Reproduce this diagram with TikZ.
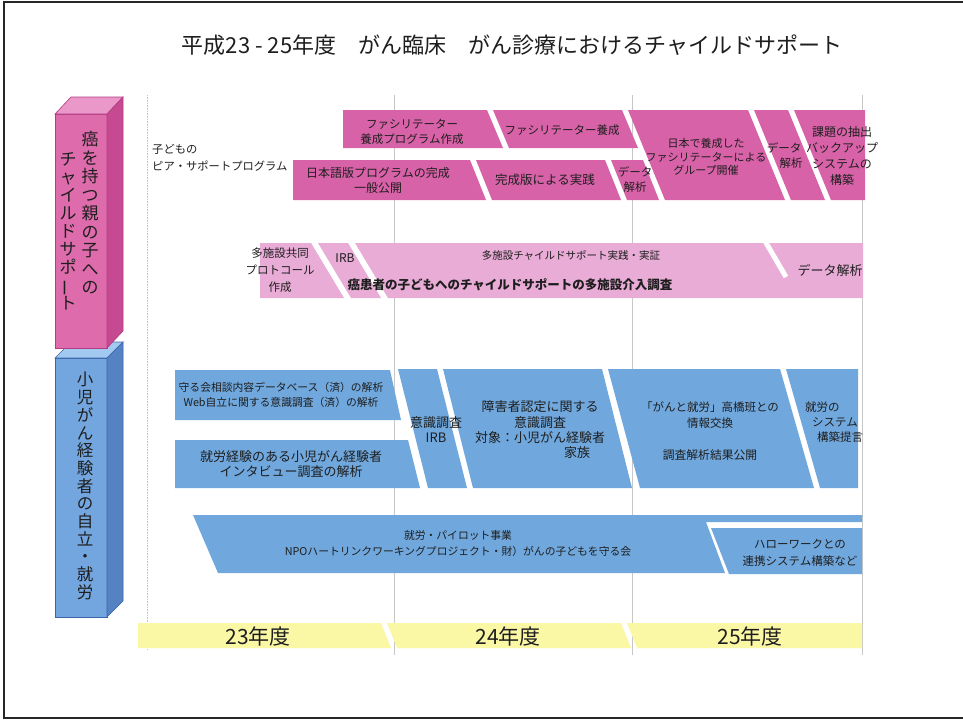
\documentclass[tikz,border=0pt]{standalone}
\usepackage{fontspec}
\usepackage{graphicx}
\setmainfont{Noto Sans CJK JP}
\definecolor{pinkbar}{RGB}{216,98,168}
\definecolor{pinklite}{RGB}{232,172,214}
\definecolor{bluebar}{RGB}{112,168,222}
\definecolor{yellowbar}{RGB}{250,247,165}
\definecolor{txtc}{RGB}{30,30,30}
\definecolor{pkfront}{RGB}{222,108,172}
\definecolor{pktop}{RGB}{234,152,202}
\definecolor{pkside}{RGB}{198,74,145}
\definecolor{pkedge}{RGB}{180,60,130}
\definecolor{blfront}{RGB}{115,165,222}
\definecolor{bltop}{RGB}{162,202,240}
\definecolor{blside}{RGB}{85,130,195}
\definecolor{bledge}{RGB}{60,100,170}
\newcommand{\vchoon}{\rotatebox[origin=c]{90}{ー}}
\newcommand{\fsz}[2]{\fontsize{#1}{#2}\selectfont}
\begin{document}
\begin{tikzpicture}[x=1pt,y=-1pt,
  txt/.style={text=txtc,align=center,inner sep=0pt},
  pinkseg/.style={fill=pinkbar,draw=none},
  liteseg/.style={fill=pinklite,draw=none},
  blueseg/.style={fill=bluebar,draw=none},
  yelseg/.style={fill=yellowbar,draw=none},
  gridline/.style={draw=black!22,line width=0.6pt},
  gapline/.style={draw=white,line width=5pt}]
\useasboundingbox (0,0) rectangle (963,721);
\fill[white] (0,0) rectangle (963,721);
% frame
\draw[line width=1.6pt,black!85] (965,2) -- (4,2) -- (4,718) -- (965,718);
% title
\node[txt,font=\fsz{22}{26}] (title) at (512,45) {平成23 - 25年度　がん臨床　がん診療におけるチャイルドサポート};
% grid lines
\draw[gridline,densely dotted] (147,95) -- (147,650);
\draw[gridline] (394,95) -- (394,655);
\draw[gridline] (632,95) -- (632,655);
\draw[gridline] (862,95) -- (862,655);
% blue pillar
\fill[blfront,draw=bledge,line width=0.6pt] (55,358) -- (107,358) -- (107,617) -- (55,617) -- cycle;
\fill[bltop,draw=bledge,line width=0.6pt] (55,358) -- (71,342) -- (123,342) -- (107,358) -- cycle;
\fill[blside,draw=bledge,line width=0.6pt] (107,358) -- (123,342) -- (123,601) -- (107,617) -- cycle;
\node[txt,font=\fsz{16.5}{17.7}] (bluecol) at (85,486) {小\\児\\が\\ん\\経\\験\\者\\の\\自\\立\\・\\就\\労};
% pink pillar
\fill[pkfront,draw=pkedge,line width=0.6pt] (55,114) -- (107,114) -- (107,348) -- (55,348) -- cycle;
\fill[pktop,draw=pkedge,line width=0.6pt] (55,114) -- (71,97) -- (123,97) -- (107,114) -- cycle;
\fill[pkside,draw=pkedge,line width=0.6pt] (107,114) -- (123,97) -- (123,331) -- (107,348) -- cycle;
\node[txt,font=\fsz{17}{18.5}] (pinkcolA) at (90,213) {癌\\を\\持\\つ\\親\\の\\子\\へ\\の};
\node[txt,font=\fsz{17}{18}] (pinkcolB) at (68,231) {チ\\ャ\\イ\\ル\\ド\\サ\\ポ\\\vchoon\\ト};
% peer support label
\node[txt,align=left,anchor=west,font=\fsz{11.3}{16.5}] (peer) at (152,158) {子どもの\\ピア・サポートプログラム};
% pink rows 1-2
\path[pinkseg] (343,110) -- (487,110) -- (503,148) -- (343,148) -- cycle;
\path[pinkseg] (493,110) -- (622,110) -- (638,148) -- (509,148) -- cycle;
\path[pinkseg] (628,110) -- (748,110) -- (785,200) -- (665,200) -- cycle;
\path[pinkseg] (754,110) -- (788,110) -- (825,200) -- (791,200) -- cycle;
\path[pinkseg] (794,110) -- (865,110) -- (865,200) -- (831,200) -- cycle;
\path[pinkseg] (293,160) -- (470,160) -- (486,200) -- (293,200) -- cycle;
\path[pinkseg] (476,160) -- (605,160) -- (621,200) -- (492,200) -- cycle;
\path[pinkseg] (611,160) -- (643,160) -- (659,200) -- (627,200) -- cycle;
\node[txt,font=\fsz{11.5}{15}] (s1) at (412,132) {ファシリテーター\\養成プログラム作成};
\node[txt,font=\fsz{11.5}{15}] (s2) at (562,130) {ファシリテーター養成};
\node[txt,font=\fsz{11}{13.5}] (s3) at (706,157) {日本で養成した\\ファシリテーターによる\\グループ開催};
\node[txt,font=\fsz{11.5}{15}] (s4a) at (784,148) {データ};
\node[txt,font=\fsz{11.5}{15}] (s4b) at (791,163) {解析};
\node[txt,font=\fsz{12}{16}] (s5) at (842,156) {課題の抽出\\バックアップ\\システムの\\構築};
\node[txt,font=\fsz{12}{15}] (t1) at (378,180) {日本語版プログラムの完成\\一般公開};
\node[txt,font=\fsz{12.5}{15}] (t2) at (545,180) {完成版による実践};
\node[txt,font=\fsz{11.5}{15}] (t3) at (635,180) {データ\\解析};
% light pink row 3
\path[liteseg] (260,243) -- (311,243) -- (344,298) -- (260,298) -- cycle;
\path[liteseg] (318,243) -- (348,243) -- (381,298) -- (351,298) -- cycle;
\path[liteseg] (355,243) -- (863,243) -- (863,298) -- (388,298) -- cycle;
\draw[gapline] (765,241) -- (786,277);
\node[txt,font=\fsz{11.5}{17}] (u1) at (280,270) {多施設共同\\プロトコール\\作成};
\node[txt,font=\fsz{12}{15}] (u2) at (345,258) {IRB};
\node[txt,font=\fsz{10.5}{14}] (u3a) at (571,256) {多施設チャイルドサポート実践・実証};
\node[txt,font=\fsz{12.5}{15}\bfseries] (u3b) at (510,285) {癌患者の子どもへのチャイルドサポートの多施設介入調査};
\node[txt,font=\fsz{13}{15}] (u4) at (830,270) {データ解析};
% blue rows
\path[blueseg] (175,370) -- (390,370) -- (401,420) -- (175,420) -- cycle;
\path[blueseg] (175,440) -- (408,440) -- (420,488) -- (175,488) -- cycle;
\path[blueseg] (398,369) -- (437,369) -- (467,488) -- (428,488) -- cycle;
\path[blueseg] (443,369) -- (602,369) -- (632,488) -- (473,488) -- cycle;
\path[blueseg] (608,369) -- (780,369) -- (814,488) -- (640,488) -- cycle;
\path[blueseg] (786,369) -- (858,369) -- (858,488) -- (820,488) -- cycle;
\node[txt,font=\fsz{10.8}{15}] (ba) at (281,395) {守る会相談内容データベース（済）の解析\\Web自立に関する意識調査（済）の解析};
\node[txt,font=\fsz{13}{15}] (bb) at (291,464) {就労経験のある小児がん経験者\\インタビュー調査の解析};
\node[txt,font=\fsz{13}{15}] (bc) at (436,430) {意識調査\\IRB};
\node[txt,font=\fsz{13}{15.3}] (bd) at (540,430) {障害者認定に関する\\意識調査\\対象：小児がん経験者\\\hspace*{74pt}家族};
\node[txt,font=\fsz{11.5}{16}] (be1) at (710,415) {「がんと就労」高橋班との\\情報交換};
\node[txt,font=\fsz{11.8}{15}] (be2) at (710,455) {調査解析結果公開};
\node[txt,align=left,anchor=west,font=\fsz{11.5}{15}] (bf) at (805,422) {就労の\\\hspace*{7pt}システム\\\hspace*{12pt}構築提言};
% big blue bar and inset
\path[blueseg] (193,515) -- (862,515) -- (862,522) -- (706,522) -- (725,573) -- (218,573) -- cycle;
\path[blueseg] (711,528) -- (862,528) -- (862,574) -- (729,574) -- cycle;
\node[txt,font=\fsz{10.8}{16}] (bg) at (458,543) {就労・パイロット事業\\NPOハートリンクワーキングプロジェクト・財）がんの子どもを守る会};
\node[txt,font=\fsz{11.5}{17}] (bh) at (800,553) {ハローワークとの\\連携システム構築など};
% year bar
\path[yelseg] (138,623) -- (381,623) -- (391,648) -- (138,648) -- cycle;
\path[yelseg] (387,623) -- (621,623) -- (631,648) -- (397,648) -- cycle;
\path[yelseg] (627,623) -- (862,623) -- (862,648) -- (637,648) -- cycle;
\node[txt,font=\fsz{21}{24}] (y23) at (258,636) {23年度};
\node[txt,font=\fsz{21}{24}] (y24) at (508,636) {24年度};
\node[txt,font=\fsz{21}{24}] (y25) at (750,636) {25年度};
\end{tikzpicture}
\end{document}
